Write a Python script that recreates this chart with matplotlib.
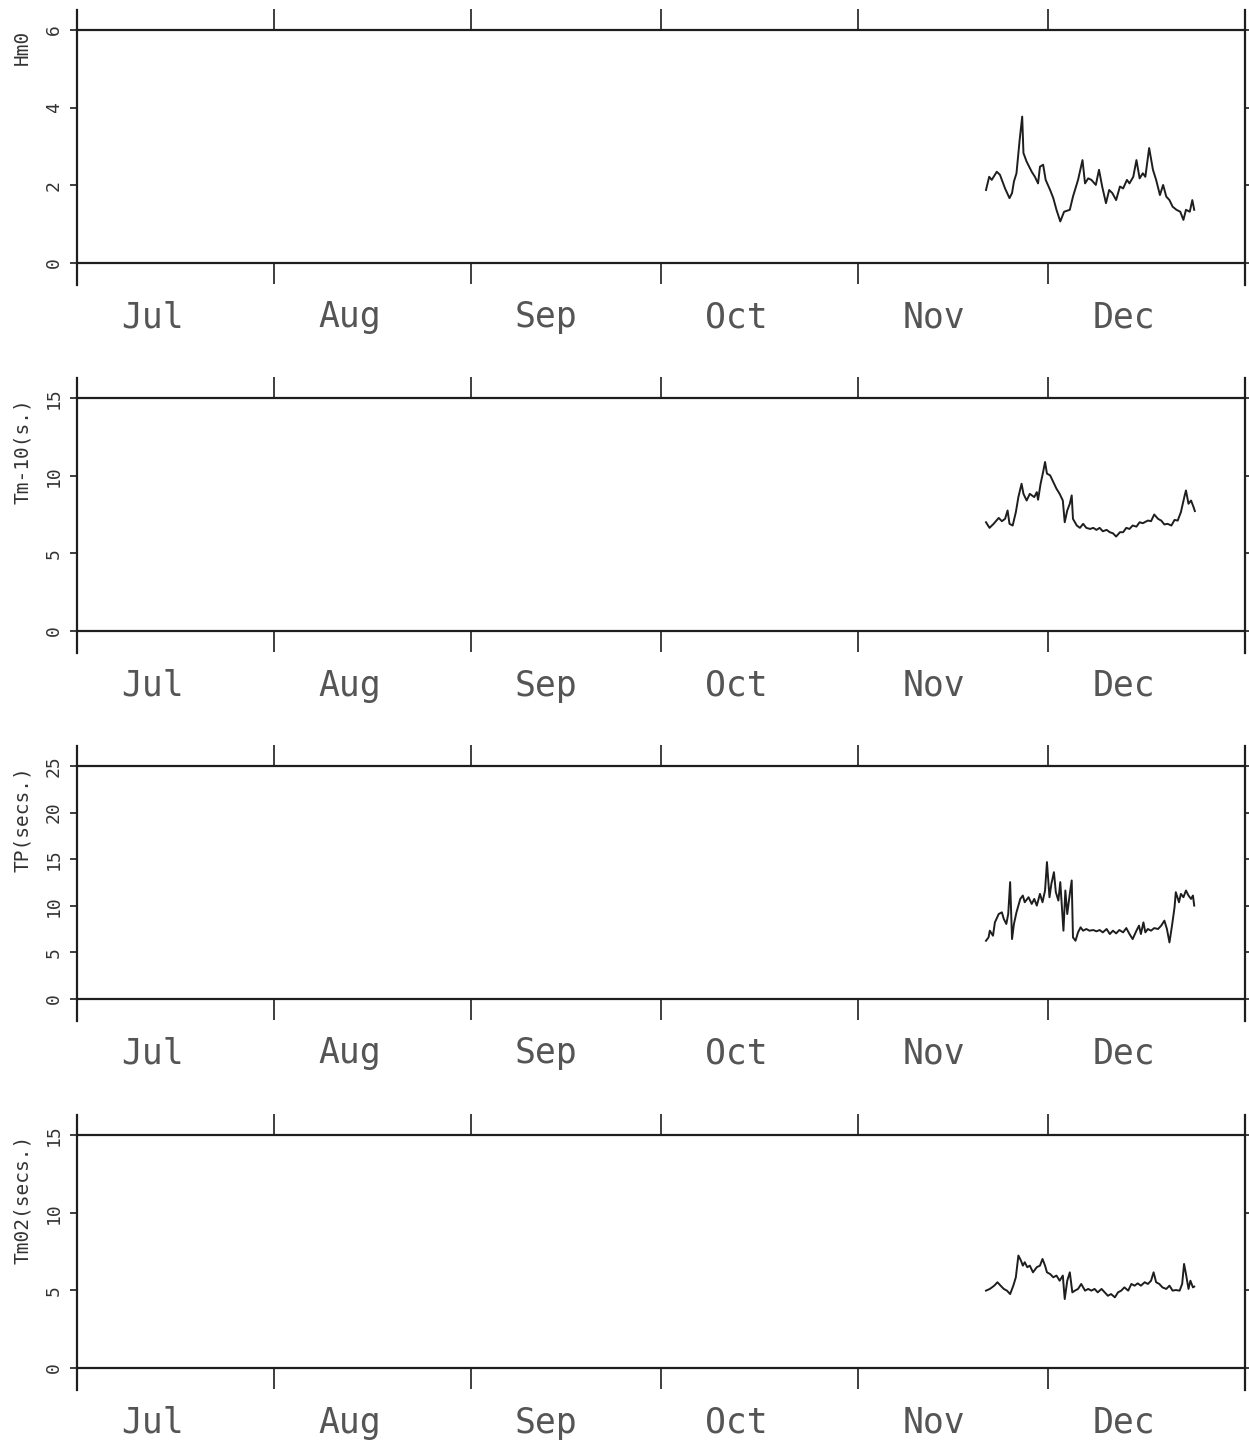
import matplotlib
matplotlib.use("Agg")
import matplotlib.pyplot as plt
from matplotlib.ticker import FixedLocator, FixedFormatter
import numpy as np

# -----------------------------------
# DATA (time in days since 1 Jul)
# -----------------------------------

month_names = ["Jul", "Aug", "Sep", "Oct", "Nov", "Dec"]
month_starts = [0, 31, 62, 92, 123, 153, 184]

hm0_days = [143.2, 143.7, 144.1, 144.9, 145.4, 146.2, 146.9, 147.3, 147.6, 148.0,
            148.5, 148.9, 149.1, 149.6, 150.4, 150.9, 151.4, 151.7, 152.2, 152.6,
            153.3, 153.8, 154.3, 154.9, 155.5, 156.4, 156.9, 157.7, 158.4, 158.8,
            159.3, 159.8, 160.5, 161.0, 161.5, 162.1, 162.6, 163.1, 163.7, 164.3,
            164.8, 165.4, 165.8, 166.4, 166.9, 167.4, 167.9, 168.3, 168.9, 169.5,
            170.0, 170.6, 171.1, 171.6, 172.1, 172.6, 173.2, 173.8, 174.3, 174.7,
            175.3, 175.7, 176.0]
hm0_vals = [1.88, 2.22, 2.14, 2.35, 2.27, 1.92, 1.67, 1.80, 2.10, 2.31,
            3.17, 3.77, 2.83, 2.61, 2.35, 2.22, 2.05, 2.48, 2.53, 2.14,
            1.88, 1.67, 1.37, 1.07, 1.32, 1.37, 1.71, 2.14, 2.65, 2.05,
            2.18, 2.14, 2.01, 2.40, 1.97, 1.54, 1.88, 1.80, 1.62, 1.97,
            1.92, 2.14, 2.05, 2.22, 2.65, 2.18, 2.31, 2.22, 2.96, 2.40,
            2.14, 1.75, 2.01, 1.71, 1.62, 1.45, 1.37, 1.32, 1.11, 1.37,
            1.32, 1.62, 1.37]

tm10_days = [143.2, 143.75, 144.4, 145.2, 145.7, 146.2, 146.6, 146.9, 147.4, 147.9,
             148.3, 148.8, 149.1, 149.6, 150.1, 150.8, 151.2, 151.4, 151.8, 152.2,
             152.5, 152.8, 153.3, 153.8, 154.3, 154.8, 155.3, 155.6, 156.0, 156.4,
             156.7, 156.9, 157.5, 158.0, 158.5, 159.0, 159.6, 160.1, 160.6, 161.1,
             161.6, 162.2, 162.7, 163.2, 163.7, 164.3, 164.8, 165.3, 165.8, 166.3,
             166.9, 167.4, 167.9, 168.7, 169.2, 169.7, 170.3, 170.8, 171.3, 171.8,
             172.4, 172.9, 173.4, 173.9, 174.5, 174.7, 175.1, 175.5, 175.9, 176.1]
tm10_vals = [7.00, 6.64, 6.90, 7.28, 7.07, 7.22, 7.76, 6.90, 6.79, 7.65,
             8.62, 9.48, 8.83, 8.40, 8.83, 8.62, 8.94, 8.45, 9.48, 10.24,
             10.88, 10.13, 10.02, 9.59, 9.16, 8.83, 8.40, 7.00, 7.76, 8.19,
             8.73, 7.22, 6.79, 6.64, 6.90, 6.64, 6.57, 6.64, 6.51, 6.64,
             6.42, 6.51, 6.36, 6.29, 6.08, 6.36, 6.36, 6.64, 6.57, 6.79,
             6.72, 7.00, 6.94, 7.11, 7.07, 7.50, 7.22, 7.11, 6.86, 6.90,
             6.79, 7.15, 7.11, 7.65, 8.73, 9.05, 8.19, 8.40, 7.97, 7.72]

tp_days = [143.2, 143.6, 143.8, 144.3, 144.6, 145.2, 145.7, 146.0, 146.4, 146.7,
           147.0, 147.3, 147.6, 148.0, 148.6, 149.0, 149.3, 149.9, 150.4, 150.8,
           151.2, 151.7, 152.1, 152.5, 152.8, 153.2, 153.5, 153.9, 154.2, 154.6,
           154.9, 155.4, 155.7, 156.0, 156.4, 156.7, 156.9, 157.3, 157.7, 158.1,
           158.5, 159.0, 159.5, 160.1, 160.6, 161.1, 161.6, 162.2, 162.7, 163.2,
           163.7, 164.2, 164.8, 165.3, 165.8, 166.3, 166.9, 167.3, 167.6, 168.0,
           168.3, 168.7, 169.2, 169.7, 170.3, 170.8, 171.3, 171.7, 172.1, 172.5,
           172.9, 173.1, 173.6, 173.9, 174.3, 174.7, 175.1, 175.5, 175.8, 176.0]
tp_vals = [6.25, 6.61, 7.33, 6.79, 8.22, 9.12, 9.30, 8.59, 8.05, 9.12,
           12.54, 6.43, 8.05, 9.30, 10.74, 11.10, 10.38, 10.92, 10.20, 10.74,
           10.02, 11.28, 10.38, 11.64, 14.69, 10.92, 12.36, 13.61, 11.46, 10.56,
           12.54, 7.33, 11.64, 9.12, 11.28, 12.72, 6.61, 6.25, 7.15, 7.69,
           7.33, 7.51, 7.33, 7.40, 7.26, 7.40, 7.15, 7.51, 6.97, 7.33,
           7.04, 7.40, 7.15, 7.61, 6.97, 6.43, 7.33, 7.87, 6.97, 8.22,
           7.15, 7.51, 7.33, 7.61, 7.51, 7.87, 8.41, 7.51, 6.07, 7.87,
           9.84, 11.46, 10.38, 11.28, 10.92, 11.64, 11.10, 10.74, 11.10, 10.02]

tm02_days = [143.2, 143.8, 144.5, 145.0, 145.5, 146.0, 146.5, 147.0, 147.5, 147.9,
             148.3, 148.7, 149.0, 149.3, 149.7, 150.1, 150.6, 151.2, 151.7, 152.1,
             152.5, 152.8, 153.3, 153.8, 154.3, 154.8, 155.3, 155.6, 156.0, 156.4,
             156.8, 157.2, 157.7, 158.2, 158.8, 159.3, 159.8, 160.3, 160.8, 161.4,
             161.9, 162.4, 162.9, 163.5, 164.0, 164.5, 165.0, 165.6, 166.1, 166.6,
             167.1, 167.6, 168.2, 168.7, 169.2, 169.6, 170.0, 170.5, 171.0, 171.6,
             172.1, 172.6, 173.1, 173.7, 174.1, 174.4, 174.7, 175.1, 175.4, 175.8,
             176.0]
tm02_vals = [4.98, 5.09, 5.30, 5.52, 5.30, 5.09, 4.98, 4.76, 5.30, 5.84,
             7.24, 6.92, 6.59, 6.81, 6.49, 6.59, 6.16, 6.49, 6.59, 7.02,
             6.59, 6.16, 6.05, 5.84, 5.95, 5.62, 5.95, 4.44, 5.62, 6.16,
             4.87, 4.98, 5.09, 5.41, 4.98, 5.09, 4.98, 5.09, 4.87, 5.09,
             4.87, 4.65, 4.76, 4.55, 4.87, 4.98, 5.19, 4.98, 5.41, 5.30,
             5.45, 5.30, 5.52, 5.41, 5.62, 6.16, 5.52, 5.41, 5.19, 5.09,
             5.30, 4.98, 5.02, 4.98, 5.41, 6.70, 6.05, 5.09, 5.62, 5.19,
             5.24]

panel_labels = ["Hm0", "Tm-10(s.)", "TP(secs.)", "Tm02(secs.)"]
panel_max = [6, 15, 25, 15]
panel_step = [2, 5, 5, 5]
panel_days = [hm0_days, tm10_days, tp_days, tm02_days]
panel_vals = [hm0_vals, tm10_vals, tp_vals, tm02_vals]

# -----------------------------------
# LAYOUT (pixels on a 1249 x 1445 canvas)
# -----------------------------------

W, H = 1249, 1445
left_px, right_px = 77, 1245
top_lines = [30, 398, 766, 1135]
data_px = 233
pad_top_px = 20
pad_bot_px = 22

ink = "#1e1e1e"
label_grey = "#555555"
mono = "DejaVu Sans Mono"

fig = plt.figure(figsize=(W / 100, H / 100), dpi=100)
fig.patch.set_facecolor("white")

for i in range(4):
    top = top_lines[i] - pad_top_px
    bottom = top_lines[i] + data_px + pad_bot_px
    ax = fig.add_axes([
        left_px / W,
        1 - bottom / H,
        (right_px - left_px) / W,
        (bottom - top) / H
    ])

    ymax = panel_max[i]
    ax.set_xlim(month_starts[0], month_starts[-1])
    ax.set_ylim(-ymax * pad_bot_px / data_px, ymax + ymax * pad_top_px / data_px)

    ax.plot(panel_days[i], panel_vals[i], color=ink, linewidth=1.4)

    # frame: top/bottom lines at the data limits
    ax.spines["bottom"].set_position(("data", 0))
    ax.spines["top"].set_position(("data", ymax))
    for s in ax.spines.values():
        s.set_color(ink)
        s.set_linewidth(1.6)

    # x ticks at month boundaries, out from both lines
    ax.xaxis.set_major_locator(FixedLocator(month_starts))
    ax.xaxis.set_ticks_position("both")
    ax.tick_params(axis="x", which="major", direction="out", length=15,
                   width=1.2, color=ink, labelbottom=False, labeltop=False)

    # month names as minor ticks a week into each month
    ax.xaxis.set_minor_locator(FixedLocator([m + 7 for m in month_starts[:-1]]))
    ax.xaxis.set_minor_formatter(FixedFormatter(month_names))
    ax.tick_params(axis="x", which="minor", length=0, pad=27,
                   labelsize=25, labelcolor=label_grey,
                   labelbottom=True, labeltop=False, top=False)
    for lab in ax.xaxis.get_minorticklabels():
        lab.set_horizontalalignment("left")
        lab.set_family(mono)

    # y ticks
    ax.set_yticks(np.arange(0, ymax + 1, panel_step[i]))
    ax.yaxis.set_ticks_position("both")
    ax.tick_params(axis="y", direction="out", length=5, width=1.2,
                   color=ink, labelsize=13, labelcolor="#333333",
                   labelright=False, pad=5)
    for lab in ax.get_yticklabels():
        lab.set_rotation(90)
        lab.set_verticalalignment("center")
        lab.set_family(mono)

    # y label, top aligned with the upper line
    ax.text(-0.047, ymax, panel_labels[i], rotation=90,
            ha="center", va="top", fontsize=14, color="#333333",
            family=mono, transform=ax.get_yaxis_transform())

plt.savefig("out.png", dpi=100, facecolor="white")
